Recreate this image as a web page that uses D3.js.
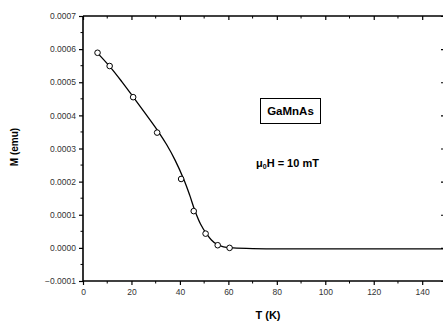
<!DOCTYPE html>
<html><head><meta charset="utf-8">
<script src="https://cdn.jsdelivr.net/npm/d3@7"></script>
<style>html,body{margin:0;padding:0;background:#fff;overflow:hidden}</style>
</head><body>
<svg id="c" width="443" height="324"></svg>
<script>
const pointT = [6, 11, 20.7, 30.6, 40.5, 45.7, 50.6, 55.6, 60.5];
const pointM = [0.000589, 0.000549, 0.000455, 0.000348, 0.000208, 0.000111, 0.000043, 0.000008, 0.0];
const fitT = [6, 11, 16, 21, 26, 31, 34.5, 38, 41.7, 44, 46.2, 48.5, 51, 53, 55, 58, 62, 70, 100, 149];
const fitM = [0.000588, 0.000548, 0.000502, 0.000453, 0.000403, 0.000352, 0.000312, 0.000265, 0.000205, 0.000160, 0.000112, 0.000072, 0.000042, 0.000024, 0.000012, 0.000003, 0.0, -0.000002, -0.000003, -0.000003];
const xTicks = [0, 20, 40, 60, 80, 100, 120, 140];
const xMinor = [10, 30, 50, 70, 90, 110, 130];
const yTicks = [-0.0001, 0.0, 0.0001, 0.0002, 0.0003, 0.0004, 0.0005, 0.0006, 0.0007];
const yMinor = [-0.00005, 0.00005, 0.00015, 0.00025, 0.00035, 0.00045, 0.00055, 0.00065];
const xTitle = "T (K)";
const yTitle = "M (emu)";
const sampleLabel = "GaMnAs";

const svg = d3.select("#c");
const L = 83, R = 444, T = 16, B = 281;
const x = d3.scaleLinear().domain([0, 149]).range([L, R]);
const y = d3.scaleLinear().domain([-0.0001, 0.0007]).range([B, T]);
const font = "'Liberation Sans', Arial, sans-serif";
const fmt = d3.format(".4f");

// bottom axis
const gb = svg.append("g").attr("transform", `translate(0,${B})`)
  .call(d3.axisBottom(x).tickValues(xTicks).tickSize(4).tickPadding(4).tickFormat(d3.format("d")));
gb.append("g").selectAll("line").data(xMinor).join("line")
  .attr("x1", d=>x(d)).attr("x2", d=>x(d)).attr("y1",0).attr("y2",2.5).attr("stroke","#000");
// top axis
const gt = svg.append("g").attr("transform", `translate(0,${T})`)
  .call(d3.axisBottom(x).tickValues(xTicks).tickSize(4).tickFormat(""));
gt.append("g").selectAll("line").data(xMinor).join("line")
  .attr("x1", d=>x(d)).attr("x2", d=>x(d)).attr("y1",0).attr("y2",2.5).attr("stroke","#000");
// left axis
const gl = svg.append("g").attr("transform", `translate(${L},0)`)
  .call(d3.axisLeft(y).tickValues(yTicks).tickSize(4).tickPadding(3).tickFormat(fmt));
gl.append("g").selectAll("line").data(yMinor).join("line")
  .attr("y1", d=>y(d)).attr("y2", d=>y(d)).attr("x1",0).attr("x2",-2.5).attr("stroke","#000");
// right axis
const gr = svg.append("g").attr("transform", `translate(${R},0)`)
  .call(d3.axisLeft(y).tickValues(yTicks).tickSize(3).tickFormat(""));

[gb, gt, gl, gr].forEach(g => {
  g.select(".domain").attr("stroke", "#000").attr("stroke-width", 1.6);
  g.selectAll(".tick line").attr("stroke", "#000").attr("stroke-width", 1.2);
  g.selectAll(".tick text").attr("font-family", font).attr("font-size", 8.5).attr("fill", "#333");
});
gt.select(".domain").attr("d", `M${L},0H${R}`);
gb.select(".domain").attr("d", `M${L},0H${R}`);
gl.select(".domain").attr("d", `M0,${T}V${B}`);
gr.select(".domain").attr("d", `M0,${T}V${B}`);

// fit curve
const fit = fitT.map((t,i)=>[t, fitM[i]]);
svg.append("path").datum(fit)
  .attr("d", d3.line().x(d=>x(d[0])).y(d=>y(d[1])).curve(d3.curveCatmullRom.alpha(0.5)))
  .attr("fill","none").attr("stroke","#000").attr("stroke-width",1.3);

// points
const pts = pointT.map((t,i)=>[t, pointM[i]]);
svg.append("g").selectAll("circle").data(pts).join("circle")
  .attr("cx", d=>x(d[0])).attr("cy", d=>y(d[1])).attr("r", 2.8)
  .attr("fill","#fff").attr("stroke","#000").attr("stroke-width",1);

// titles
svg.append("text").attr("x", 268).attr("y", 319).attr("text-anchor","middle")
  .attr("font-family", font).attr("font-weight","bold").attr("font-size", 11).text(xTitle);
svg.append("text").attr("transform","translate(18,147) rotate(-90)").attr("text-anchor","middle")
  .attr("font-family", font).attr("font-weight","bold").attr("font-size", 10).text(yTitle);

// label box
svg.append("rect").attr("x",260.5).attr("y",98.5).attr("width",60).attr("height",25)
  .attr("fill","none").attr("stroke","#000").attr("stroke-width",1);
svg.append("text").attr("x",290.5).attr("y",115).attr("text-anchor","middle")
  .attr("font-family", font).attr("font-weight","bold").attr("font-size",11.5).text(sampleLabel);

const t2 = svg.append("text").attr("x",256).attr("y",167)
  .attr("font-family", font).attr("font-weight","bold").attr("font-size",11);
t2.append("tspan").text("μ");
t2.append("tspan").attr("font-size",7).attr("dy",2).text("0");
t2.append("tspan").attr("dy",-2).text("H = 10 mT");
</script>
</body></html>
